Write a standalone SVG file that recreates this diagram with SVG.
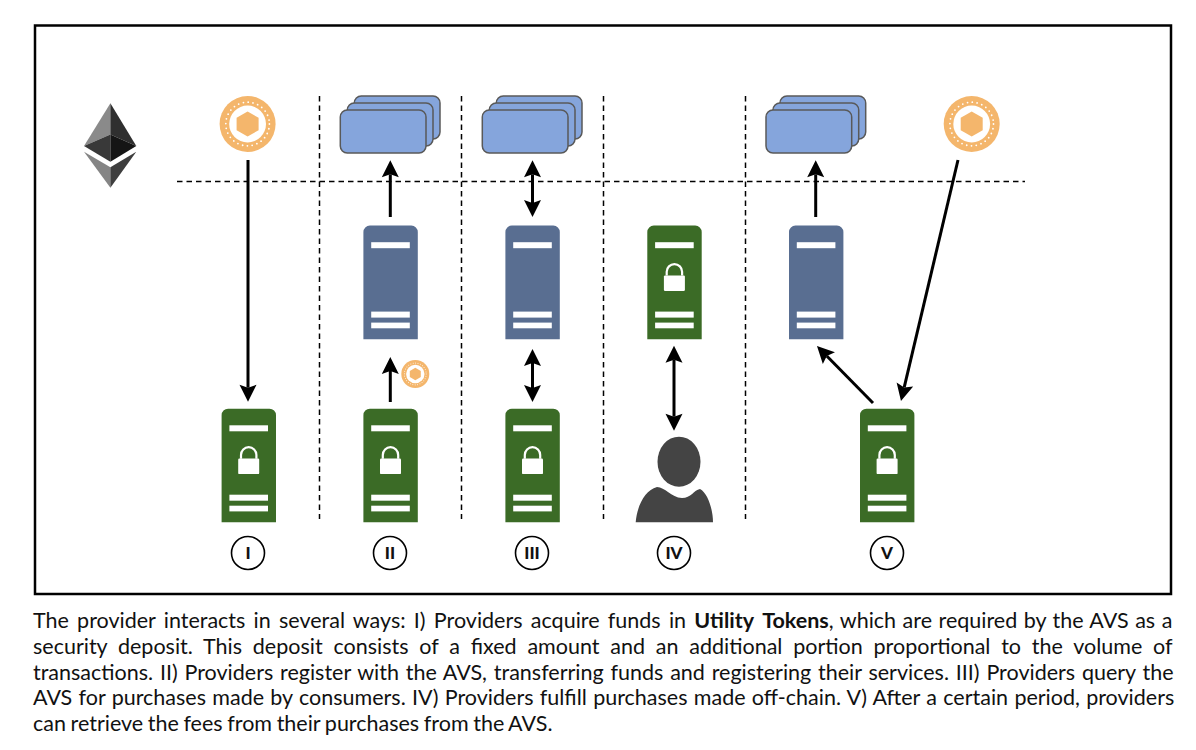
<svg xmlns="http://www.w3.org/2000/svg" xmlns:xlink="http://www.w3.org/1999/xlink" width="1196" height="750" viewBox="0 0 1196 750">
<style>
.bg{fill:#fff}
.frame{fill:none;stroke:#000;stroke-width:2.5}
.dash{fill:none;stroke:#000;stroke-width:1.5;stroke-dasharray:5.5 4}
.conn{fill:none;stroke:#000;stroke-width:3}
.card{fill:#85a5dc;stroke:#595959;stroke-width:1.5}
.green{fill:#3b6b26}
.blue{fill:#596e91}
.wh{fill:#fff}
.badge{fill:#fff;stroke:#000;stroke-width:1.6}
.num{font:900 17px Lato,"Liberation Sans",sans-serif;text-anchor:middle;fill:#111}
.cap{font:400 21.5px Lato,"Liberation Sans",sans-serif;fill:#111}
.cap .b{font-weight:700}
</style>
<defs>
<marker id="head" markerUnits="userSpaceOnUse" markerWidth="18" markerHeight="18" refX="3" refY="8.5" orient="auto-start-reverse" overflow="visible"><path d="M0 0L17 8.5L0 17L3 8.5Z" fill="#000"/></marker>
<g id="coin">
<circle r="28" fill="#f4b66c"/>
<circle r="21.8" fill="none" stroke="#fff" stroke-width="1.8" stroke-linecap="round" stroke-dasharray="0 4.89"/>
<circle r="18.4" fill="#fff"/>
<path d="M0-12.5L11-6.2V6.2L0 12.5L-11 6.2V-6.2Z" fill="#f4b66c"/>
</g>
<g id="stack">
<rect x="14" y="0" width="85.7" height="43" rx="7" class="card"/>
<rect x="7" y="7" width="85.7" height="43" rx="7" class="card"/>
<rect x="0" y="14" width="85.7" height="43" rx="7" class="card"/>
</g>
<g id="bars">
<rect x="7.8" y="16.6" width="38.6" height="6" class="wh"/>
<rect x="7.8" y="86" width="38.6" height="6" class="wh"/>
<rect x="7.8" y="97" width="38.6" height="5.7" class="wh"/>
</g>
<g id="greenServer">
<path d="M0 113.6V6.5A6.5 6.5 0 0 1 6.5 0H47.9A6.5 6.5 0 0 1 54.4 6.5V113.6Z" class="green"/>
<use xlink:href="#bars" href="#bars"/>
<rect x="16.6" y="49.8" width="21" height="15.6" rx="1.2" class="wh"/>
<path d="M19.4 50V46.2A7.7 7.7 0 0 1 34.8 46.2V50" fill="none" stroke="#fff" stroke-width="2.2"/>
</g>
<g id="blueServer">
<path d="M0 113.6V6.5A6.5 6.5 0 0 1 6.5 0H47.9A6.5 6.5 0 0 1 54.4 6.5V113.6Z" class="blue"/>
<use xlink:href="#bars" href="#bars"/>
</g>
</defs>
<rect class="bg" width="1196" height="750"/>
<rect class="frame" x="35" y="25.5" width="1136" height="568.5"/>
<g id="separators">
<path class="dash" d="M177 181.5H1025"/>
<path class="dash" d="M319.5 96V519"/>
<path class="dash" d="M461.5 96V519"/>
<path class="dash" d="M603.5 96V519"/>
<path class="dash" d="M745.5 96V519"/>
</g>
<g id="ethereum">
<path d="M110.4 103.3L84 146L110.4 134.4Z" fill="#8a8a8a"/>
<path d="M110.4 103.3L136.3 146L110.4 134.4Z" fill="#2f2f2f"/>
<path d="M84 146L110.4 134.4V161.7Z" fill="#393939"/>
<path d="M136.3 146L110.4 134.4V161.7Z" fill="#151515"/>
<path d="M84 151.7L110.4 167.3V187.7Z" fill="#858585"/>
<path d="M136.3 151.7L110.4 167.3V187.7Z" fill="#3e3e3e"/>
</g>
<g id="coin-1"><use xlink:href="#coin" href="#coin" x="247.6" y="124"/></g>
<g id="coin-5"><use xlink:href="#coin" href="#coin" x="971.7" y="124"/></g>
<g id="coin-small"><use xlink:href="#coin" href="#coin" transform="translate(415.3 374) scale(.5)"/></g>
<g id="stack-2"><use xlink:href="#stack" href="#stack" x="340.3" y="96"/></g>
<g id="stack-3"><use xlink:href="#stack" href="#stack" x="482.3" y="96"/></g>
<g id="stack-5"><use xlink:href="#stack" href="#stack" x="766" y="96"/></g>
<g id="server-1"><use xlink:href="#greenServer" href="#greenServer" x="221.6" y="408.7"/></g>
<g id="server-2"><use xlink:href="#greenServer" href="#greenServer" x="363.4" y="408.7"/></g>
<g id="server-3"><use xlink:href="#greenServer" href="#greenServer" x="505.4" y="408.7"/></g>
<g id="server-4"><use xlink:href="#greenServer" href="#greenServer" x="647.3" y="225.6"/></g>
<g id="server-5"><use xlink:href="#greenServer" href="#greenServer" x="860" y="408.7"/></g>
<g id="avs-2"><use xlink:href="#blueServer" href="#blueServer" x="363.4" y="225.6"/></g>
<g id="avs-3"><use xlink:href="#blueServer" href="#blueServer" x="505.4" y="225.6"/></g>
<g id="avs-5"><use xlink:href="#blueServer" href="#blueServer" x="789" y="225.6"/></g>
<g id="consumer" fill="#444">
<ellipse cx="679" cy="461.7" rx="21.5" ry="25"/>
<path d="M635.7 522.3C637 506 645 490 657 487C665 487 671 497.5 682 498C691 498 694 490 700 489C708 493 713 510 713 522.3Z"/>
</g>
<g id="connectors">
<line class="conn" x1="248" y1="160" x2="248" y2="387.7" marker-end="url(#head)"/>
<line class="conn" x1="390.3" y1="402" x2="390.3" y2="371" marker-end="url(#head)"/>
<line class="conn" x1="390.3" y1="217" x2="390.3" y2="174.3" marker-end="url(#head)"/>
<line class="conn" x1="532.5" y1="203" x2="532.5" y2="174.3" marker-start="url(#head)" marker-end="url(#head)"/>
<line class="conn" x1="532.5" y1="388" x2="532.5" y2="363" marker-start="url(#head)" marker-end="url(#head)"/>
<line class="conn" x1="674" y1="416.7" x2="674" y2="359.7" marker-start="url(#head)" marker-end="url(#head)"/>
<line class="conn" x1="815.7" y1="217" x2="815.7" y2="174.3" marker-end="url(#head)"/>
<line class="conn" x1="958" y1="160" x2="904.2" y2="387.4" marker-end="url(#head)"/>
<line class="conn" x1="873" y1="403" x2="826.8" y2="356" marker-end="url(#head)"/>
</g>
<g id="label-1"><circle class="badge" cx="248" cy="553" r="16.5"/><text class="num" x="248" y="559">I</text></g>
<g id="label-2"><circle class="badge" cx="390" cy="553" r="16.5"/><text class="num" x="390" y="559">II</text></g>
<g id="label-3"><circle class="badge" cx="532" cy="553" r="16.5"/><text class="num" x="532" y="559">III</text></g>
<g id="label-4"><circle class="badge" cx="674" cy="553" r="16.5"/><text class="num" x="674" y="559">IV</text></g>
<g id="label-5"><circle class="badge" cx="887" cy="553" r="16.5"/><text class="num" x="887" y="559">V</text></g>
<g id="caption">
<text class="cap" x="33" y="628" word-spacing="2.75">The provider interacts in several ways: I) Providers acquire funds in <tspan class="b" word-spacing="4.1">Utility Tokens</tspan><tspan word-spacing="1">, which are required by the AVS as a</tspan></text>
<text class="cap" x="33" y="654" word-spacing="5.3">security deposit. This deposit consists of a fixed amount and an additional portion proportional to the volume of</text>
<text class="cap" x="33" y="680" word-spacing="1.3">transactions. II) Providers register with the AVS, transferring funds and registering their services. III) Providers query the</text>
<text class="cap" x="33" y="705" word-spacing="0.8">AVS for purchases made by consumers. IV) Providers fulfill purchases made off-chain. V) After a certain period, providers</text>
<text class="cap" x="33" y="731" word-spacing="-0.9">can retrieve the fees from their purchases from the AVS.</text>
</g>
</svg>
